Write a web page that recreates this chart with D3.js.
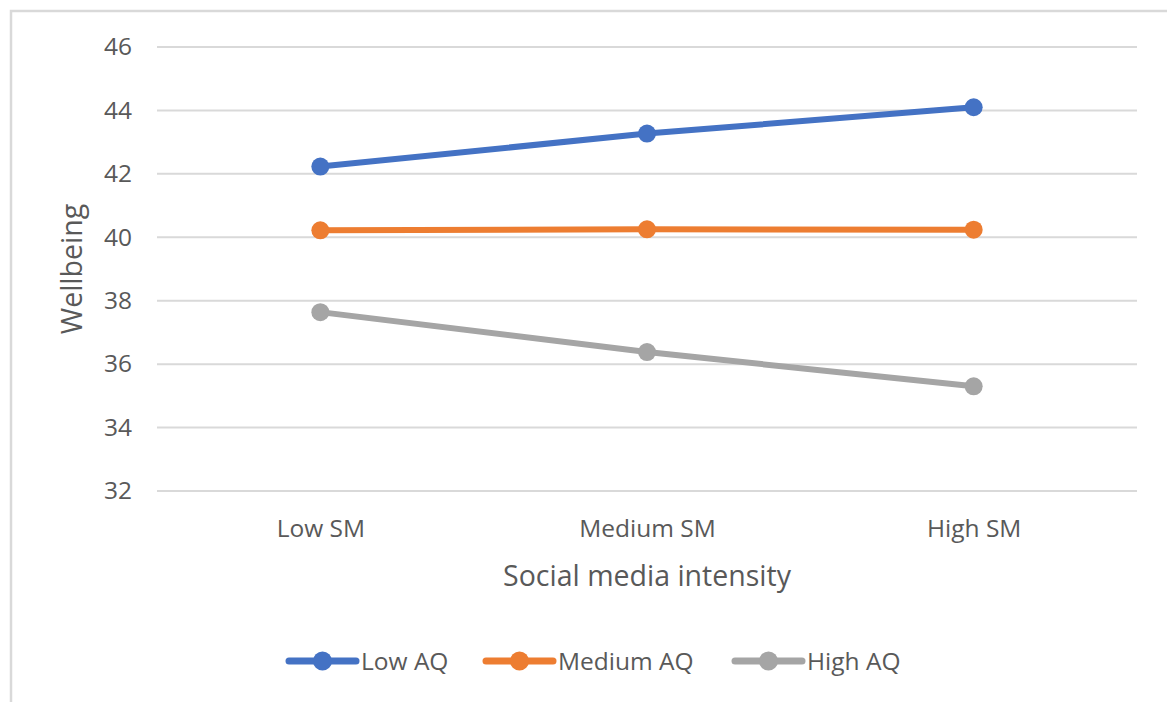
<!DOCTYPE html>
<html>
<head>
<meta charset="utf-8">
<script src="https://cdn.jsdelivr.net/npm/d3@7"></script>
<style>
  html, body { margin: 0; padding: 0; background: #fff; }
  svg { display: block; font-family: "Open Sans", "Noto Sans", sans-serif; }
</style>
</head>
<body>
<svg id="chart" width="1167" height="702"></svg>
<script>
// Wellbeing by social media intensity, one line per AQ level
const categories = ["Low SM", "Medium SM", "High SM"];
const seriesNames = ["Low AQ", "Medium AQ", "High AQ"];
const lowAQ = [42.23, 43.27, 44.10];
const mediumAQ = [40.22, 40.25, 40.24];
const highAQ = [37.64, 36.38, 35.30];
const yTicks = [32, 34, 36, 38, 40, 42, 44, 46];
const colors = ["#4472C4", "#ED7D31", "#A5A5A5"];

const series = [lowAQ, mediumAQ, highAQ].map((values, i) => ({
  name: seriesNames[i],
  color: colors[i],
  values: values.map((v, j) => ({ cat: categories[j], value: v }))
}));

const svg = d3.select("#chart");
const textColor = "#595959";
const gridColor = "#D9D9D9";

// chart frame
svg.append("rect")
  .attr("x", 11).attr("y", 11)
  .attr("width", 1200).attr("height", 720)
  .attr("fill", "none")
  .attr("stroke", gridColor)
  .attr("stroke-width", 2.5);

const plot = { left: 157, right: 1137, top: 47, bottom: 491 };

const x = d3.scalePoint()
  .domain(categories)
  .range([plot.left, plot.right])
  .padding(0.5);

const y = d3.scaleLinear()
  .domain([32, 46])
  .range([plot.bottom, plot.top]);

// horizontal gridlines
svg.append("g")
  .selectAll("line")
  .data(yTicks)
  .join("line")
  .attr("x1", plot.left).attr("x2", plot.right)
  .attr("y1", d => y(d)).attr("y2", d => y(d))
  .attr("stroke", gridColor)
  .attr("stroke-width", 2);

// y axis labels
const yAxis = svg.append("g")
  .attr("transform", `translate(${plot.left - 10},0)`)
  .call(d3.axisLeft(y).tickValues(yTicks).tickSize(0).tickPadding(15));
yAxis.select(".domain").remove();
yAxis.selectAll("text")
  .attr("fill", textColor)
  .attr("font-size", 24.5)
  .attr("font-family", "'Open Sans', sans-serif");

// x axis labels
const xAxis = svg.append("g")
  .attr("transform", `translate(0,${plot.bottom})`)
  .call(d3.axisBottom(x).tickSize(0).tickPadding(29));
xAxis.select(".domain").remove();
xAxis.selectAll("text")
  .attr("fill", textColor)
  .attr("font-size", 24.5)
  .attr("font-family", "'Open Sans', sans-serif");

// axis titles
svg.append("text")
  .attr("x", (plot.left + plot.right) / 2)
  .attr("y", 586)
  .attr("text-anchor", "middle")
  .attr("fill", textColor)
  .attr("font-size", 28.5)
  .text("Social media intensity");

svg.append("text")
  .attr("transform", `translate(82,${(plot.top + plot.bottom) / 2}) rotate(-90)`)
  .attr("text-anchor", "middle")
  .attr("fill", textColor)
  .attr("font-size", 28.5)
  .text("Wellbeing");

// lines and markers
const line = d3.line()
  .x(d => x(d.cat))
  .y(d => y(d.value));

const groups = svg.append("g")
  .selectAll("g")
  .data(series)
  .join("g");

groups.append("path")
  .attr("d", d => line(d.values))
  .attr("fill", "none")
  .attr("stroke", d => d.color)
  .attr("stroke-width", 6)
  .attr("stroke-linejoin", "round")
  .attr("stroke-linecap", "round");

groups.selectAll("circle")
  .data(d => d.values.map(v => ({ ...v, color: d.color })))
  .join("circle")
  .attr("cx", d => x(d.cat))
  .attr("cy", d => y(d.value))
  .attr("r", 9)
  .attr("fill", d => d.color);

// legend
const legendX = [289, 486, 735];
const legendY = 661;
const legend = svg.append("g")
  .selectAll("g")
  .data(series)
  .join("g")
  .attr("transform", (d, i) => `translate(${legendX[i]},${legendY})`);

legend.append("line")
  .attr("x1", 0).attr("x2", 67)
  .attr("y1", 0).attr("y2", 0)
  .attr("stroke", d => d.color)
  .attr("stroke-width", 7)
  .attr("stroke-linecap", "round");

legend.append("circle")
  .attr("cx", 33.5).attr("cy", 0)
  .attr("r", 9.5)
  .attr("fill", d => d.color);

legend.append("text")
  .attr("x", 72)
  .attr("y", 9)
  .attr("fill", textColor)
  .attr("font-size", 24.5)
  .text(d => d.name);
</script>
</body>
</html>
